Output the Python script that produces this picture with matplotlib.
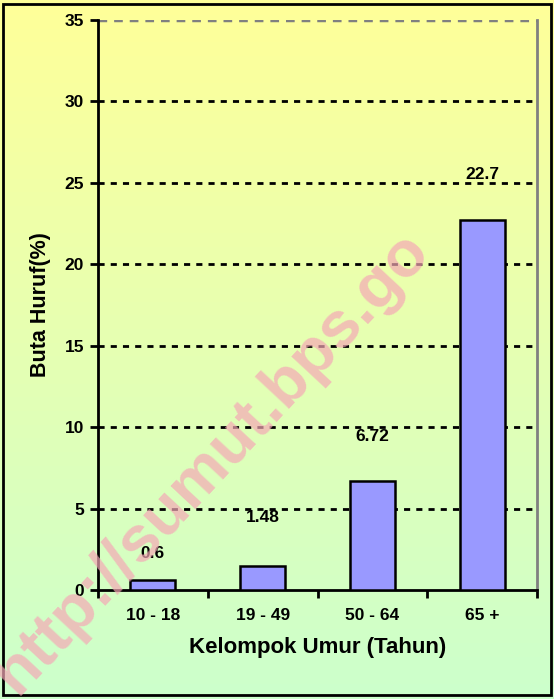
import matplotlib.pyplot as plt
import numpy as np
from matplotlib.colors import LinearSegmentedColormap
from matplotlib.patches import Rectangle

groups = ["10 - 18", "19 - 49", "50 - 64", "65 +"]
values = [0.6, 1.48, 6.72, 22.7]
y_ticks = [0, 5, 10, 15, 20, 25, 30, 35]

# per-bar label lifts in points (as placed in the original)
label_lift = [19, 35, 32, 33]

plt.rcParams["font.family"] = ["Liberation Sans", "DejaVu Sans"]
plt.rcParams["font.weight"] = "bold"

fig = plt.figure(figsize=(5.54, 6.99), dpi=100)

# gradient background, yellow to light green
bg = fig.add_axes([0, 0, 1, 1], zorder=-10)
grad = np.linspace(0, 1, 256).reshape(-1, 1)
cmap = LinearSegmentedColormap.from_list("bg", ["#FFFF99", "#CCFFCC"])
bg.imshow(grad, aspect="auto", cmap=cmap, extent=[0, 1, 0, 1], origin="upper")
bg.add_patch(Rectangle((0.006, 0.006), 0.988, 0.988, transform=bg.transAxes,
                       fill=False, edgecolor="black", linewidth=2))
bg.set_axis_off()

ax = fig.add_axes([98 / 554, 1 - 590 / 699, (537 - 98) / 554, (590 - 20) / 699])
ax.patch.set_alpha(0)

x = np.arange(len(groups))
bars = ax.bar(x, values, width=0.41, color="#9999FF", edgecolor="black",
              linewidth=1.8, zorder=3)
for bar, val, lift in zip(bars, values, label_lift):
    ax.annotate(f"{val:g}", (bar.get_x() + bar.get_width() / 2, val),
                xytext=(0, lift), textcoords="offset points", ha="center",
                va="center", fontsize=12.5, fontweight="bold")

ax.set_xlim(-0.5, len(groups) - 0.5)
ax.set_ylim(0, 35)
ax.set_yticks(y_ticks)
ax.set_yticklabels([str(t) for t in y_ticks], fontsize=12.5, fontweight="bold")
ax.set_xticks(x)
ax.set_xticklabels(groups, fontsize=12.5, fontweight="bold")
ax.tick_params(axis="x", length=0, pad=13)
ax.set_xticks(np.arange(-0.5, len(groups)), minor=True)
ax.tick_params(axis="x", which="minor", length=6, width=2, direction="out")
ax.tick_params(axis="y", length=6, width=2, direction="out", pad=4)

for t in y_ticks[1:-1]:
    ax.axhline(t, color="black", linestyle=(0, (2.2, 2.2)), linewidth=2, zorder=1)
ax.axhline(35, color="#808080", linestyle=(0, (2.5, 2)), linewidth=2.5, zorder=1)

ax.spines["left"].set_linewidth(2)
ax.spines["bottom"].set_linewidth(2)
ax.spines["top"].set_visible(False)
ax.spines["right"].set_color("#808080")
ax.spines["right"].set_linewidth(2)

ax.set_ylabel("Buta Huruf(%)", fontsize=15.5, fontweight="bold", labelpad=10)
ax.set_xlabel("Kelompok Umur (Tahun)", fontsize=16, fontweight="bold", labelpad=10)

# watermark, cut at the lower left edge as in the original
fig.text(212 / 554, 1 - 462 / 699, "http://sumut.bps.go", rotation=47,
         ha="center", va="center", fontsize=47, fontweight="bold",
         color="#F5A8B6", alpha=0.7, zorder=20)

fig.savefig("out.png", dpi=100)
